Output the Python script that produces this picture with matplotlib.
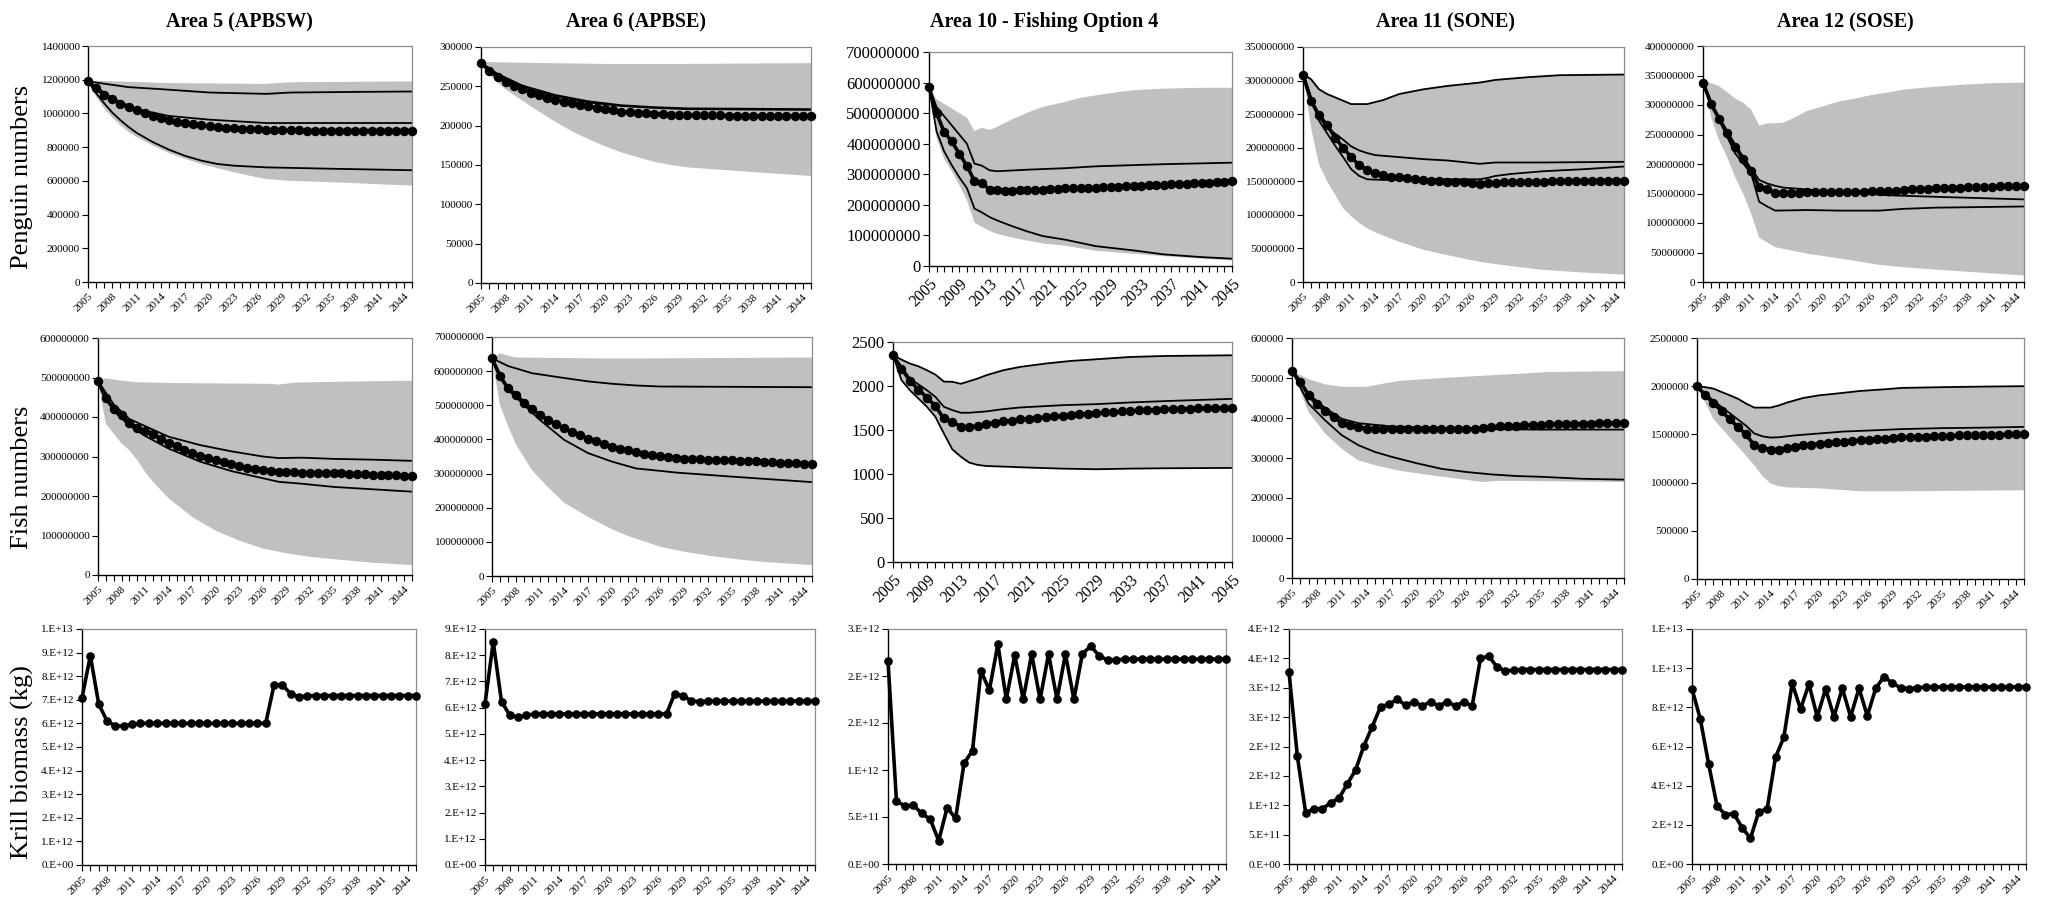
import math
import matplotlib
matplotlib.use('Agg')
import matplotlib.pyplot as plt
from matplotlib.ticker import FuncFormatter, MultipleLocator

plt.rcParams['font.family'] = ['Liberation Serif', 'DejaVu Serif']

years = list(range(2005, 2046))

titles = ['Area 5 (APBSW)', 'Area 6 (APBSE)', 'Area 10 - Fishing Option 4',
          'Area 11 (SONE)', 'Area 12 (SOSE)']
row_labels = ['Penguin numbers', 'Fish numbers', 'Krill biomass (kg)']

# ---------------- penguins ----------------
# Area 5, thousands
p5_dots = [1190, 1150, 1110, 1085, 1057, 1037, 1018, 1002, 986, 972,
           962, 952, 944, 937, 930, 924, 919, 915, 911, 909,
           907, 905, 903, 901, 900, 899, 899, 898, 898, 898,
           898, 898, 898, 898, 898, 898, 898, 898, 898, 898,
           898]
p5_hi = ([2005, 2010, 2014, 2020, 2027, 2030, 2039, 2045],
         [1190, 1156, 1144, 1124, 1116, 1124, 1128, 1130])
p5_mid = ([2005, 2008, 2011, 2015, 2020, 2027, 2045],
          [1190, 1090, 1025, 985, 963, 943, 943])
p5_lo = ([2005, 2006, 2007, 2008, 2009, 2010, 2011, 2013, 2015, 2017, 2019, 2021, 2023, 2027, 2035, 2045],
         [1190, 1120, 1060, 1005, 960, 920, 885, 830, 785, 748, 720, 700, 690, 680, 672, 663])
p5_top = ([2005, 2010, 2015, 2027, 2030, 2045],
          [1195, 1188, 1180, 1175, 1185, 1190])
p5_bot = ([2005, 2006, 2007, 2008, 2009, 2010, 2011, 2013, 2015, 2017, 2019, 2021, 2023, 2025, 2027, 2030, 2035, 2040, 2045],
          [1190, 1100, 1030, 975, 930, 890, 860, 810, 765, 730, 700, 675, 651, 630, 611, 600, 592, 582, 572])

# Area 6, thousands
p6_dots = [280, 269.5, 262, 255.5, 250, 246, 242, 238.5, 235.5, 233,
           230.5, 228.4, 226, 224.6, 223, 221, 219.5, 218, 217, 216.5,
           215.7, 215, 214.5, 214, 213.6, 213.3, 213, 213, 213, 213,
           212.8, 212.7, 212.6, 212.5, 212.5, 212.4, 212.4, 212.3, 212.3, 212.3,
           212.2]
p6_hi = ([2005, 2007, 2010, 2014, 2018, 2022, 2026, 2030, 2045],
         [280, 266, 251, 239, 231, 226, 223.5, 222, 221])
p6_mid = ([2005, 2007, 2010, 2014, 2018, 2022, 2026, 2030, 2045],
          [280, 264, 249, 237, 229.5, 225, 222.5, 221, 220])
p6_top = ([2005, 2010, 2020, 2030, 2045],
          [281, 280, 278.5, 278.5, 279.5])
p6_bot = ([2005, 2006, 2007, 2008, 2010, 2012, 2014, 2016, 2018, 2020, 2022, 2024, 2026, 2028, 2030, 2034, 2038, 2045],
          [280, 265, 255, 246, 232, 218, 205, 193, 183, 174, 166, 160, 154, 150, 147, 144, 141, 136])

# Area 10, hundred millions
p10_dots = [5.85, 5.00, 4.38, 4.08, 3.67, 3.28, 2.78, 2.70, 2.50, 2.47,
            2.46, 2.46, 2.48, 2.48, 2.50, 2.50, 2.52, 2.52, 2.54, 2.54,
            2.55, 2.56, 2.56, 2.58, 2.58, 2.60, 2.61, 2.62, 2.63, 2.64,
            2.65, 2.66, 2.67, 2.68, 2.69, 2.70, 2.71, 2.72, 2.74, 2.76,
            2.78]
p10_hi = ([2005, 2006, 2008, 2010, 2011, 2012, 2013, 2014, 2018, 2023, 2027, 2032, 2036, 2045],
          [5.85, 5.20, 4.60, 4.00, 3.35, 3.28, 3.13, 3.10, 3.15, 3.20, 3.26, 3.30, 3.33, 3.38])
p10_lo = ([2005, 2006, 2007, 2008, 2009, 2010, 2011, 2012, 2013, 2014, 2016, 2018, 2020, 2023, 2027, 2032, 2036, 2041, 2045],
          [5.85, 4.40, 3.75, 3.30, 2.90, 2.55, 1.88, 1.75, 1.60, 1.49, 1.30, 1.13, 0.98, 0.86, 0.65, 0.51, 0.38, 0.29, 0.24])
p10_top = ([2005, 2006, 2007, 2008, 2009, 2010, 2011, 2012, 2013, 2014, 2016, 2018, 2020, 2023, 2025, 2027, 2030, 2032, 2036, 2041, 2045],
           [5.90, 5.45, 5.30, 5.15, 5.00, 4.85, 4.42, 4.52, 4.45, 4.55, 4.80, 5.02, 5.20, 5.37, 5.50, 5.58, 5.69, 5.75, 5.80, 5.83, 5.83])
p10_bot = ([2005, 2006, 2007, 2008, 2009, 2010, 2011, 2012, 2013, 2014, 2016, 2018, 2020, 2023, 2027, 2032, 2036, 2041, 2045],
           [5.85, 4.20, 3.50, 3.10, 2.65, 2.15, 1.42, 1.28, 1.15, 1.05, 0.93, 0.83, 0.74, 0.66, 0.50, 0.40, 0.32, 0.24, 0.18])

# Area 11, hundred millions
p11_dots = [3.09, 2.70, 2.48, 2.34, 2.15, 2.00, 1.86, 1.74, 1.67, 1.62,
            1.59, 1.57, 1.56, 1.545, 1.53, 1.52, 1.51, 1.505, 1.495, 1.49,
            1.485, 1.48, 1.465, 1.475, 1.48, 1.485, 1.485, 1.49, 1.49, 1.495,
            1.495, 1.50, 1.50, 1.50, 1.505, 1.505, 1.505, 1.51, 1.51, 1.51,
            1.51]
p11_hi = ([2005, 2006, 2007, 2008, 2010, 2011, 2013, 2015, 2017, 2020, 2023, 2027, 2029, 2033, 2037, 2045],
          [3.10, 3.02, 2.87, 2.80, 2.70, 2.65, 2.65, 2.71, 2.80, 2.87, 2.92, 2.97, 3.01, 3.05, 3.08, 3.09])
p11_mid = ([2005, 2006, 2007, 2008, 2010, 2011, 2012, 2013, 2014, 2017, 2020, 2023, 2027, 2029, 2035, 2045],
           [3.10, 2.75, 2.45, 2.30, 2.12, 2.02, 1.96, 1.92, 1.89, 1.86, 1.83, 1.81, 1.76, 1.78, 1.78, 1.79])
p11_lo = ([2005, 2007, 2009, 2010, 2011, 2012, 2013, 2015, 2020, 2027, 2028, 2029, 2031, 2035, 2040, 2045],
          [3.10, 2.40, 2.03, 1.86, 1.68, 1.58, 1.53, 1.52, 1.53, 1.53, 1.55, 1.58, 1.61, 1.65, 1.68, 1.72])
p11_bot = ([2005, 2006, 2007, 2008, 2009, 2010, 2011, 2012, 2013, 2014, 2015, 2017, 2020, 2023, 2027, 2030, 2035, 2040, 2045],
           [3.10, 2.30, 1.75, 1.50, 1.30, 1.10, 0.98, 0.88, 0.80, 0.74, 0.69, 0.60, 0.48, 0.40, 0.30, 0.25, 0.18, 0.14, 0.11])

# Area 12, hundred millions
p12_dots = [3.38, 3.02, 2.77, 2.53, 2.29, 2.09, 1.88, 1.61, 1.57, 1.51,
            1.505, 1.51, 1.515, 1.52, 1.52, 1.52, 1.525, 1.525, 1.53, 1.53,
            1.53, 1.535, 1.54, 1.54, 1.55, 1.56, 1.57, 1.575, 1.58, 1.59,
            1.595, 1.60, 1.60, 1.605, 1.61, 1.61, 1.615, 1.62, 1.62, 1.625,
            1.63]
p12_hi = ([2005, 2006, 2008, 2010, 2012, 2013, 2014, 2015, 2017, 2020, 2025, 2028, 2035, 2040, 2045],
          [3.38, 3.00, 2.55, 2.12, 1.73, 1.67, 1.63, 1.60, 1.58, 1.54, 1.50, 1.47, 1.44, 1.42, 1.40])
p12_lo = ([2005, 2007, 2009, 2011, 2012, 2013, 2014, 2018, 2022, 2027, 2030, 2034, 2045],
          [3.38, 2.75, 2.18, 1.84, 1.36, 1.28, 1.21, 1.22, 1.21, 1.21, 1.24, 1.26, 1.28])
p12_top = ([2005, 2007, 2008, 2009, 2010, 2011, 2012, 2013, 2014, 2015, 2016, 2017, 2018, 2020, 2022, 2024, 2026, 2028, 2030, 2033, 2037, 2041, 2045],
           [3.42, 3.32, 3.22, 3.11, 3.04, 2.92, 2.65, 2.69, 2.69, 2.70, 2.76, 2.83, 2.90, 2.98, 3.06, 3.11, 3.17, 3.21, 3.26, 3.30, 3.34, 3.37, 3.38])
p12_bot = ([2005, 2006, 2007, 2008, 2009, 2010, 2011, 2012, 2014, 2018, 2022, 2027, 2030, 2034, 2045],
           [3.38, 2.80, 2.40, 2.12, 1.78, 1.50, 1.16, 0.75, 0.59, 0.48, 0.40, 0.29, 0.25, 0.21, 0.11])

# ---------------- fish ----------------
# Area 5, hundred millions
f5_dots = [4.91, 4.47, 4.21, 4.04, 3.85, 3.73, 3.65, 3.56, 3.45, 3.34,
           3.26, 3.17, 3.09, 3.02, 2.95, 2.90, 2.85, 2.81, 2.75, 2.71,
           2.69, 2.65, 2.63, 2.61, 2.61, 2.60, 2.59, 2.59, 2.58, 2.58,
           2.57, 2.57, 2.56, 2.56, 2.55, 2.54, 2.53, 2.52, 2.52, 2.51,
           2.50]
f5_hi = ([2005, 2007, 2009, 2011, 2014, 2018, 2022, 2026, 2028, 2031, 2035, 2040, 2045],
         [4.91, 4.32, 3.95, 3.77, 3.50, 3.29, 3.13, 3.00, 2.96, 2.97, 2.94, 2.92, 2.89])
f5_lo = ([2005, 2007, 2009, 2011, 2014, 2018, 2022, 2028, 2031, 2035, 2040, 2045],
         [4.91, 4.15, 3.78, 3.52, 3.20, 2.87, 2.63, 2.36, 2.31, 2.23, 2.17, 2.11])
f5_top = ([2005, 2006, 2008, 2010, 2015, 2020, 2027, 2028, 2030, 2035, 2045],
          [4.91, 4.98, 4.92, 4.88, 4.86, 4.85, 4.84, 4.82, 4.87, 4.89, 4.92])
f5_bot = ([2005, 2006, 2007, 2008, 2009, 2010, 2011, 2012, 2014, 2017, 2020, 2023, 2026, 2029, 2032, 2035, 2040, 2045],
          [4.91, 3.83, 3.58, 3.33, 3.16, 2.91, 2.61, 2.36, 1.94, 1.47, 1.12, 0.87, 0.67, 0.55, 0.46, 0.40, 0.31, 0.25])

# Area 6, hundred millions
f6_dots = [6.38, 5.85, 5.50, 5.31, 5.08, 4.89, 4.72, 4.57, 4.44, 4.33,
           4.21, 4.12, 4.02, 3.94, 3.86, 3.79, 3.73, 3.68, 3.63, 3.58,
           3.54, 3.50, 3.48, 3.46, 3.44, 3.43, 3.42, 3.41, 3.40, 3.40,
           3.39, 3.38, 3.37, 3.36, 3.35, 3.33, 3.32, 3.31, 3.30, 3.29,
           3.28]
f6_hi = ([2005, 2007, 2010, 2014, 2017, 2020, 2023, 2026, 2045],
         [6.38, 6.15, 5.94, 5.80, 5.70, 5.63, 5.58, 5.55, 5.53])
f6_lo = ([2005, 2007, 2009, 2011, 2014, 2017, 2020, 2023, 2026, 2028, 2035, 2040, 2045],
         [6.38, 5.45, 5.01, 4.57, 3.99, 3.60, 3.35, 3.15, 3.08, 3.03, 2.91, 2.83, 2.75])
f6_top = ([2005, 2006, 2007, 2008, 2020, 2030, 2045],
          [6.38, 6.52, 6.45, 6.40, 6.37, 6.38, 6.40])
f6_bot = ([2005, 2006, 2007, 2008, 2010, 2012, 2014, 2017, 2020, 2022, 2026, 2029, 2032, 2036, 2039, 2045],
          [6.38, 5.00, 4.40, 3.85, 3.10, 2.60, 2.15, 1.73, 1.37, 1.17, 0.86, 0.71, 0.60, 0.48, 0.41, 0.32])

# Area 10, numbers
f10_dots = [2350, 2198, 2058, 1960, 1869, 1771, 1631, 1594, 1537, 1537,
            1545, 1571, 1582, 1601, 1605, 1620, 1628, 1639, 1643, 1654,
            1658, 1669, 1677, 1681, 1692, 1699, 1703, 1711, 1715, 1722,
            1726, 1730, 1733, 1737, 1741, 1742, 1745, 1746, 1748, 1750,
            1752]
f10_hi = ([2005, 2006, 2007, 2008, 2009, 2010, 2011, 2012, 2013, 2014, 2015, 2016, 2018, 2020, 2023, 2026, 2029, 2033, 2037, 2041, 2045],
          [2350, 2300, 2255, 2224, 2179, 2130, 2050, 2048, 2025, 2055, 2085, 2122, 2179, 2217, 2255, 2285, 2304, 2330, 2341, 2345, 2349])
f10_mid = ([2005, 2007, 2009, 2010, 2011, 2012, 2013, 2014, 2016, 2018, 2020, 2025, 2029, 2033, 2037, 2045],
           [2350, 2085, 1952, 1877, 1764, 1726, 1696, 1696, 1711, 1737, 1756, 1782, 1794, 1813, 1828, 1854])
f10_lo = ([2005, 2006, 2007, 2008, 2009, 2010, 2011, 2012, 2013, 2014, 2015, 2016, 2018, 2021, 2025, 2029, 2033, 2037, 2045],
          [2350, 2066, 1952, 1858, 1764, 1650, 1461, 1280, 1197, 1129, 1103, 1091, 1084, 1073, 1061, 1054, 1061, 1065, 1069])

# Area 11, hundred thousands
f11_dots = [5.18, 4.90, 4.57, 4.34, 4.18, 4.03, 3.88, 3.82, 3.78, 3.73,
            3.72, 3.72, 3.72, 3.72, 3.72, 3.72, 3.72, 3.72, 3.72, 3.72,
            3.72, 3.73, 3.73, 3.74, 3.78, 3.79, 3.80, 3.81, 3.82, 3.82,
            3.83, 3.84, 3.84, 3.85, 3.85, 3.86, 3.86, 3.87, 3.87, 3.88,
            3.88]
f11_hi = ([2005, 2007, 2009, 2011, 2013, 2015, 2017, 2020, 2025, 2028, 2029, 2035, 2045],
          [5.18, 4.60, 4.25, 3.98, 3.87, 3.83, 3.79, 3.77, 3.74, 3.70, 3.72, 3.71, 3.71])
f11_lo = ([2005, 2007, 2009, 2011, 2013, 2015, 2017, 2020, 2023, 2026, 2029, 2032, 2035, 2040, 2045],
          [5.18, 4.36, 3.94, 3.57, 3.32, 3.15, 3.03, 2.87, 2.73, 2.65, 2.59, 2.55, 2.53, 2.48, 2.46])
f11_top = ([2005, 2007, 2009, 2011, 2014, 2016, 2018, 2024, 2030, 2036, 2045],
           [5.18, 4.97, 4.84, 4.78, 4.78, 4.86, 4.93, 5.01, 5.08, 5.15, 5.17])
f11_bot = ([2005, 2007, 2009, 2011, 2013, 2015, 2018, 2021, 2025, 2028, 2030, 2035, 2045],
           [5.18, 4.15, 3.61, 3.23, 2.94, 2.82, 2.68, 2.59, 2.48, 2.40, 2.43, 2.42, 2.40])

# Area 12, millions
f12_dots = [2.00, 1.906, 1.827, 1.744, 1.657, 1.578, 1.499, 1.388, 1.360, 1.343,
            1.343, 1.360, 1.371, 1.385, 1.395, 1.402, 1.412, 1.419, 1.426, 1.433,
            1.440, 1.447, 1.452, 1.457, 1.462, 1.468, 1.471, 1.474, 1.477, 1.481,
            1.485, 1.487, 1.489, 1.491, 1.492, 1.494, 1.496, 1.498, 1.499, 1.501,
            1.502]
f12_hi = ([2005, 2006, 2007, 2008, 2009, 2010, 2011, 2012, 2014, 2015, 2016, 2017, 2018, 2020, 2022, 2025, 2028, 2030, 2035, 2040, 2045],
          [2.00, 1.99, 1.975, 1.94, 1.906, 1.87, 1.82, 1.778, 1.778, 1.80, 1.83, 1.854, 1.878, 1.906, 1.923, 1.951, 1.968, 1.982, 1.99, 1.996, 2.00])
f12_mid = ([2005, 2007, 2009, 2011, 2012, 2013, 2014, 2015, 2017, 2020, 2023, 2026, 2030, 2035, 2040, 2045],
           [2.00, 1.85, 1.72, 1.59, 1.51, 1.48, 1.467, 1.47, 1.49, 1.51, 1.53, 1.54, 1.555, 1.565, 1.57, 1.578])
f12_bot = ([2005, 2007, 2009, 2011, 2012, 2013, 2014, 2015, 2016, 2020, 2025, 2030, 2045],
           [2.00, 1.66, 1.47, 1.28, 1.18, 1.07, 0.99, 0.963, 0.95, 0.94, 0.91, 0.91, 0.92])

# ---------------- krill, 1e12 kg ----------------
k5 = [7.08, 8.87, 6.82, 6.10, 5.89, 5.89, 5.97, 6.00, 6.00, 6.00,
      6.00, 6.00, 6.00, 6.00, 6.00, 6.00, 6.00, 6.00, 6.00, 6.00,
      6.00, 6.00, 6.00, 7.63, 7.63, 7.25, 7.13, 7.16, 7.18, 7.18,
      7.18, 7.18, 7.18, 7.18, 7.18, 7.18, 7.18, 7.18, 7.18, 7.18,
      7.18]
k6 = [6.14, 8.51, 6.23, 5.72, 5.63, 5.71, 5.76, 5.76, 5.76, 5.76,
      5.76, 5.76, 5.76, 5.76, 5.76, 5.76, 5.76, 5.76, 5.76, 5.76,
      5.76, 5.76, 5.76, 6.54, 6.45, 6.26, 6.23, 6.24, 6.25, 6.25,
      6.25, 6.25, 6.25, 6.25, 6.25, 6.25, 6.25, 6.25, 6.25, 6.25,
      6.25]
k10 = [2.16, 0.67, 0.617, 0.624, 0.539, 0.475, 0.248, 0.60, 0.486, 1.071,
       1.206, 2.053, 1.851, 2.337, 1.752, 2.223, 1.752, 2.234, 1.752, 2.234,
       1.752, 2.234, 1.752, 2.234, 2.319, 2.213, 2.17, 2.17, 2.18, 2.18,
       2.18, 2.18, 2.18, 2.18, 2.18, 2.18, 2.18, 2.18, 2.18, 2.18,
       2.18]
k11 = [3.27, 1.84, 0.874, 0.936, 0.936, 1.044, 1.118, 1.362, 1.60, 2.014,
       2.338, 2.678, 2.718, 2.803, 2.706, 2.763, 2.689, 2.763, 2.689, 2.763,
       2.689, 2.763, 2.689, 3.50, 3.54, 3.35, 3.285, 3.30, 3.31, 3.31,
       3.31, 3.31, 3.31, 3.31, 3.31, 3.31, 3.31, 3.31, 3.31, 3.31,
       3.31]
k12 = [8.94, 7.40, 5.09, 2.96, 2.52, 2.57, 1.86, 1.31, 2.67, 2.81,
       5.45, 6.47, 9.23, 7.91, 9.19, 7.52, 8.94, 7.52, 8.97, 7.52,
       8.97, 7.56, 8.97, 9.57, 9.23, 9.00, 8.95, 9.00, 9.04, 9.04,
       9.04, 9.04, 9.04, 9.04, 9.04, 9.04, 9.04, 9.04, 9.04, 9.04,
       9.04]

# ---------------- layout (pixels: left, top, right, bottom) ----------------
W, H = 2051, 902
fig = plt.figure(figsize=(W / 100, H / 100), dpi=100)


def box(l, t, r, b):
    return [l / W, 1 - b / H, (r - l) / W, (b - t) / H]


def plain(v, pos):
    return '%d' % round(v)


def excel_sci(v, pos):
    if v <= 0:
        return '0.E+00'
    e = int(math.floor(math.log10(v) + 1e-9))
    m = int(math.floor(round(v / 10 ** e, 6) + 0.5))
    if m == 10:
        m, e = 1, e + 1
    return '%d.E+%02d' % (m, e)


def style(ax, ymax, ystep, fmt, fsy, fsx, lab_step):
    ax.set_xlim(2005, 2045)
    ax.set_ylim(0, ymax)
    ax.yaxis.set_major_locator(MultipleLocator(ystep))
    ax.yaxis.set_major_formatter(FuncFormatter(fmt))
    ax.set_xticks(years)
    ax.set_xticklabels([str(y) if (y - 2005) % lab_step == 0 else '' for y in years],
                       rotation=45, ha='right', rotation_mode='anchor', fontsize=fsx)
    ax.tick_params(axis='both', direction='out', length=4, width=0.8, pad=2)
    ax.tick_params(axis='y', labelsize=fsy)
    ax.tick_params(axis='x', pad=3)
    for s in ['top', 'right']:
        ax.spines[s].set_color('#8c8c8c')
        ax.spines[s].set_linewidth(0.9)
    for s in ['left', 'bottom']:
        ax.spines[s].set_color('black')
        ax.spines[s].set_linewidth(1.0)


def pop_panel(pos, dots, lines, top, bot, unit, ymax, ystep, big=False, lab_step=3):
    ax = fig.add_axes(box(*pos))
    xs = list(top[0]) + list(bot[0][::-1])
    ys = [v * unit for v in top[1]] + [v * unit for v in bot[1][::-1]]
    ax.fill(xs, ys, color='#c0c0c0', lw=0, zorder=1)
    for yr, vals in lines:
        ax.plot(yr, [v * unit for v in vals], color='black', lw=1.3, zorder=2)
    ax.plot(years, [v * unit for v in dots], color='black', lw=2.6, marker='o',
            ms=5.8, zorder=3, clip_on=False)
    if big:
        style(ax, ymax, ystep, plain, 12, 11.5, lab_step)
    else:
        style(ax, ymax, ystep, plain, 8.2, 8, lab_step)
    return ax


def krill_panel(pos, vals, ymax, ystep):
    ax = fig.add_axes(box(*pos))
    ax.plot(years, [v * 1e12 for v in vals], color='black', lw=2.6, marker='o',
            ms=5.2, zorder=3, clip_on=False)
    style(ax, ymax, ystep, excel_sci, 8, 8, 3)
    return ax


# row 1: penguins
pop_panel((88, 46, 412, 282), p5_dots, [p5_hi, p5_mid, p5_lo], p5_top, p5_bot, 1e3, 1400000, 200000)
pop_panel((481, 47, 811, 283), p6_dots, [p6_hi, p6_mid], p6_top, p6_bot, 1e3, 300000, 50000)
pop_panel((929, 52, 1232, 266), p10_dots, [p10_hi, p10_lo], p10_top, p10_bot, 1e8, 700000000, 100000000,
          big=True, lab_step=4)
pop_panel((1303, 47, 1624, 282), p11_dots, [p11_hi, p11_mid, p11_lo], p11_hi, p11_bot, 1e8, 350000000, 50000000)
pop_panel((1703, 46, 2024, 282), p12_dots, [p12_hi, p12_lo], p12_top, p12_bot, 1e8, 400000000, 50000000)

# row 2: fish
pop_panel((98, 338, 412, 575), f5_dots, [f5_hi, f5_lo], f5_top, f5_bot, 1e8, 600000000, 100000000)
pop_panel((492, 337, 812, 576), f6_dots, [f6_hi, f6_lo], f6_top, f6_bot, 1e8, 700000000, 100000000)
pop_panel((893, 342, 1232, 562), f10_dots, [f10_hi, f10_mid, f10_lo], f10_hi, f10_lo, 1, 2500, 500,
          big=True, lab_step=4)
pop_panel((1292, 338, 1624, 578), f11_dots, [f11_hi, f11_lo], f11_top, f11_bot, 1e5, 600000, 100000)
pop_panel((1697, 338, 2024, 579), f12_dots, [f12_hi, f12_mid], f12_hi, f12_bot, 1e6, 2500000, 500000)

# row 3: krill
krill_panel((82, 629, 416, 865), k5, 1e13, 1e12)
krill_panel((485, 629, 815, 865), k6, 9e12, 1e12)
krill_panel((888, 629, 1226, 864), k10, 2.5e12, 5e11)
krill_panel((1289, 629, 1622, 864), k11, 4e12, 5e11)
krill_panel((1692, 629, 2026, 864), k12, 1.2e13, 2e12)

# titles and row labels
title_x = [239, 636, 1044, 1445, 1845]
for tx, t in zip(title_x, titles):
    fig.text(tx / W, 1 - 22 / H, t, ha='center', va='center', fontsize=14.5, fontweight='bold')

label_y = [177, 477, 762]
for ly, t in zip(label_y, row_labels):
    fig.text(22 / W, 1 - ly / H, t, ha='center', va='center', rotation=90, fontsize=19)

fig.savefig('out.png', dpi=100)
